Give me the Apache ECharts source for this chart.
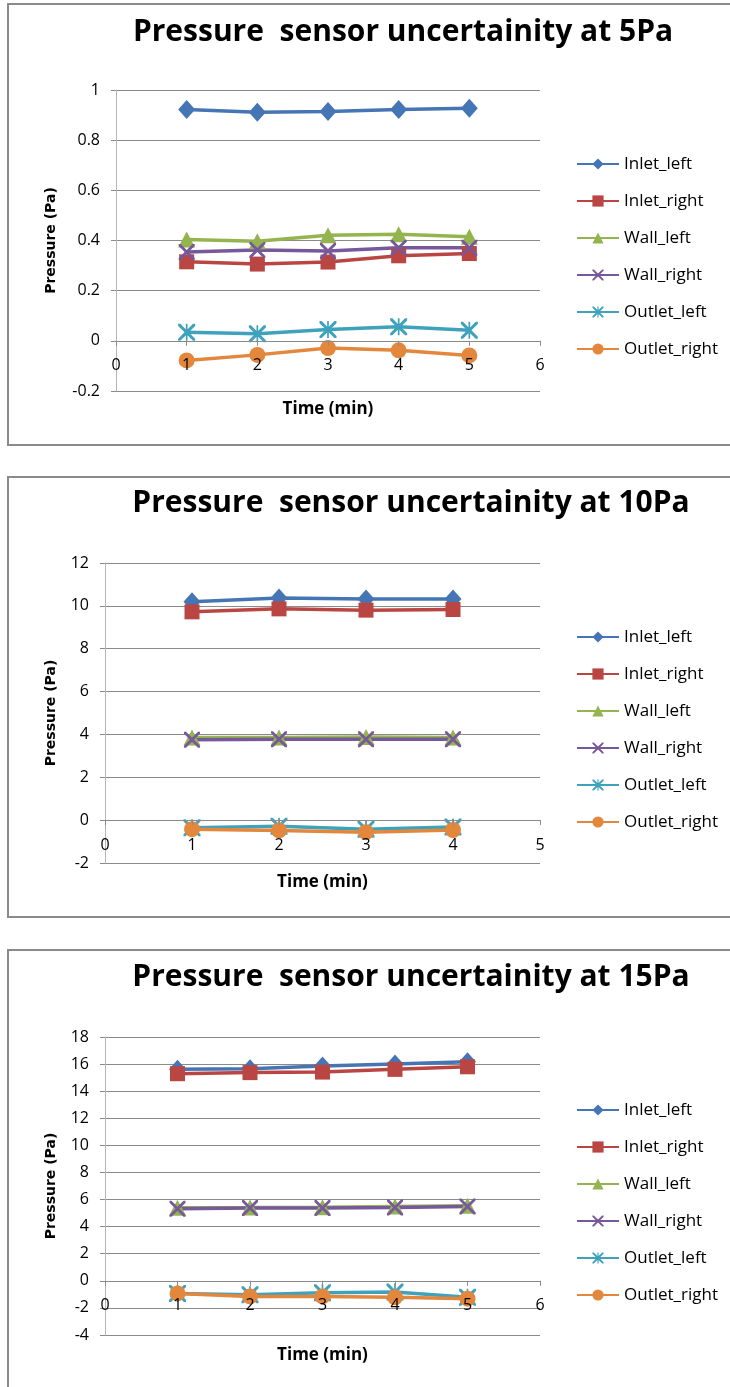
<!DOCTYPE html>
<html><head><meta charset="utf-8">
<script src="https://cdn.jsdelivr.net/npm/echarts@6/dist/echarts.min.js"></script>
<style>html,body{margin:0;padding:0;background:#fff}#c{width:730px;height:1387px}</style>
</head><body><div id="c"></div>
<script>
// ---- data ----
const seriesNames = ['Inlet_left','Inlet_right','Wall_left','Wall_right','Outlet_left','Outlet_right'];
const chartTitles = ['Pressure  sensor uncertainity at 5Pa','Pressure  sensor uncertainity at 10Pa','Pressure  sensor uncertainity at 15Pa'];
const xTitle = 'Time (min)';
const yTitle = 'Pressure (Pa)';

// 5 Pa
const time5 = [1,2,3,4,5];
const inletLeft5   = [0.922,0.911,0.914,0.922,0.927];
const inletRight5  = [0.315,0.306,0.314,0.339,0.348];
const wallLeft5    = [0.404,0.397,0.421,0.425,0.415];
const wallRight5   = [0.354,0.362,0.358,0.371,0.371];
const outletLeft5  = [0.034,0.028,0.045,0.056,0.042];
const outletRight5 = [-0.078,-0.056,-0.029,-0.038,-0.058];

// 10 Pa
const time10 = [1,2,3,4];
const inletLeft10   = [10.19,10.37,10.32,10.32];
const inletRight10  = [9.72,9.86,9.80,9.83];
const wallLeft10    = [3.86,3.86,3.88,3.86];
const wallRight10   = [3.75,3.77,3.77,3.77];
const outletLeft10  = [-0.36,-0.28,-0.42,-0.32];
const outletRight10 = [-0.42,-0.48,-0.56,-0.46];

// 15 Pa
const time15 = [1,2,3,4,5];
const inletLeft15   = [15.61,15.66,15.85,16.00,16.17];
const inletRight15  = [15.29,15.37,15.41,15.61,15.80];
const wallLeft15    = [5.39,5.41,5.44,5.49,5.54];
const wallRight15   = [5.32,5.37,5.37,5.41,5.49];
const outletLeft15  = [-0.93,-1.02,-0.88,-0.83,-1.22];
const outletRight15 = [-0.93,-1.15,-1.15,-1.22,-1.32];

// axis ranges
const yRange5  = {min:-0.2, max:1, interval:0.2};
const yRange10 = {min:-2, max:12, interval:2};
const yRange15 = {min:-4, max:18, interval:2};
const xMax = [6,5,6];

// ---- styling ----
const colors = ['#4675B5','#B94643','#93B44F','#77599B','#3FA2BD','#E3873C'];
const xPath = 'path://M0,0 L2.5,0 L10,7.5 L17.5,0 L20,0 L20,2.5 L12.5,10 L20,17.5 L20,20 L17.5,20 L10,12.5 L2.5,20 L0,20 L0,17.5 L7.5,10 L0,2.5 Z';
const starPath = 'path://M9,0 L11,0 L11,20 L9,20 Z M0,0 L2.5,0 L10,7.5 L17.5,0 L20,0 L20,2.5 L12.5,10 L20,17.5 L20,20 L17.5,20 L10,12.5 L2.5,20 L0,20 L0,17.5 L7.5,10 L0,2.5 Z';
const symbols = ['diamond','rect','triangle',xPath,starPath,'circle'];
const symSizes = [[17,19],15,[17,16],16,17,16];
const FONT = '"Open Sans",sans-serif';

const datasets = [
  [time5,[inletLeft5,inletRight5,wallLeft5,wallRight5,outletLeft5,outletRight5]],
  [time10,[inletLeft10,inletRight10,wallLeft10,wallRight10,outletLeft10,outletRight10]],
  [time15,[inletLeft15,inletRight15,wallLeft15,wallRight15,outletLeft15,outletRight15]]
];
const yRanges = [yRange5,yRange10,yRange15];

const grids = [
  {left:116, top:90, width:424, height:301},
  {left:105, top:563, width:435, height:300},
  {left:105, top:1037, width:435, height:298}
];
const xNameGap = [60,54,66];
const yNameGap = [58,47,47];
const legendTops = [154,627,1100];
const titleY = [32,503,977];
const titleX = [403,411,411];
const boxes = [[8,4,760,441],[8,477,760,440],[8,950,760,460]];

const series = [];
datasets.forEach(([t, arrs], gi) => {
  arrs.forEach((vals, si) => {
    series.push({
      name: seriesNames[si], type:'line', xAxisIndex:gi, yAxisIndex:gi,
      data: t.map((x,i)=>[x, vals[i]]),
      symbol: symbols[si], symbolSize: symSizes[si],
      lineStyle:{color:colors[si], width:3.5},
      itemStyle:{color:colors[si]},
      showAllSymbol:true, animation:false
    });
  });
});

// x axis sits on the y=0 line (Excel style): shift it up from the grid bottom
const xAxes = grids.map((g,i)=>({
  gridIndex:i, type:'value', min:0, max:xMax[i], interval:1, position:'bottom', z:5,
  offset: -g.height * (0 - yRanges[i].min) / (yRanges[i].max - yRanges[i].min),
  name:xTitle, nameLocation:'middle', nameGap:xNameGap[i],
  nameTextStyle:{fontFamily:FONT, fontWeight:'bold', fontSize:17, color:'#000'},
  axisLine:{onZero:false, lineStyle:{color:'#8a8a8a', width:1}},
  axisTick:{show:true, length:5, lineStyle:{color:'#8a8a8a'}},
  axisLabel:{fontFamily:FONT, fontSize:16, color:'#000', margin:17},
  splitLine:{show:false}
}));
const yAxes = grids.map((g,i)=>({
  gridIndex:i, type:'value', min:yRanges[i].min, max:yRanges[i].max, interval:yRanges[i].interval,
  name:yTitle, nameLocation:'middle', nameGap:yNameGap[i], nameRotate:90,
  nameTextStyle:{fontFamily:'"DejaVu Sans",sans-serif', fontWeight:'bold', fontSize:14, color:'#000'},
  axisLine:{show:true, onZero:false, lineStyle:{color:'#b5b5b5', width:1}},
  axisTick:{show:true, length:5, lineStyle:{color:'#8a8a8a'}},
  axisLabel:{fontFamily:FONT, fontSize:16, color:'#000', margin:16,
    formatter:v=>String(Math.round(v*1000)/1000)},
  splitLine:{show:true, lineStyle:{color:'#8a8a8a', width:1}}
}));
const legends = legendTops.map(t=>({
  orient:'vertical', left:576, top:t, itemWidth:42, itemHeight:14, itemGap:17, padding:0,
  data:seriesNames,
  textStyle:{fontFamily:FONT, fontSize:17, color:'#000', lineHeight:20}
}));
const graphics = [];
boxes.forEach(b=>graphics.push({type:'rect', shape:{x:b[0],y:b[1],width:b[2],height:b[3]},
  style:{fill:'none', stroke:'#8a8a8a', lineWidth:2}, silent:true, z:-1}));
chartTitles.forEach((t,i)=>graphics.push({type:'text', x:titleX[i], y:titleY[i],
  style:{text:t, textAlign:'center', textVerticalAlign:'middle',
    font:'bold 30px "Open Sans",sans-serif', fill:'#000'}}));

const chart = echarts.init(document.getElementById('c'), null, {renderer:'canvas'});
chart.setOption({
  animation:false,
  grid:grids, xAxis:xAxes, yAxis:yAxes, legend:legends, series:series, graphic:graphics
});
</script></body></html>
